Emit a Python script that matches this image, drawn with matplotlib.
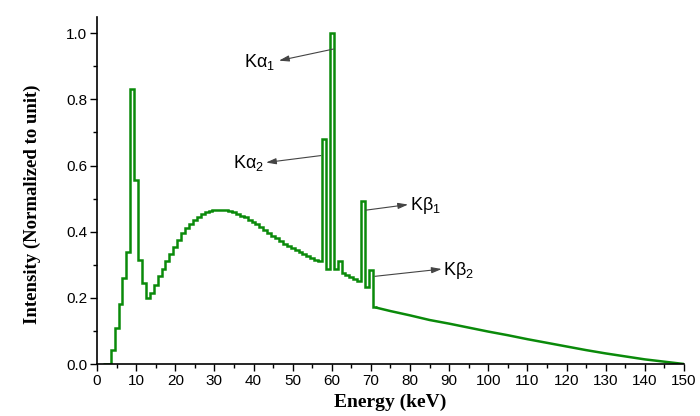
import matplotlib.pyplot as plt
import numpy as np

# binned part of the spectrum (1 keV bins, centre energies in keV)
energy_bins = np.arange(2, 72)
intensity_bins = [
    0.0, 0.0, 0.042, 0.11, 0.18, 0.26, 0.34, 0.83, 0.557, 0.315,
    0.245, 0.200, 0.215, 0.24, 0.265, 0.287, 0.31, 0.333, 0.355, 0.376,
    0.395, 0.41, 0.424, 0.436, 0.445, 0.452, 0.458, 0.462, 0.464, 0.465,
    0.466, 0.467, 0.463, 0.458, 0.453, 0.448, 0.443, 0.436, 0.429, 0.422,
    0.414, 0.405, 0.396, 0.388, 0.38, 0.372, 0.364, 0.357, 0.35, 0.344,
    0.338, 0.332, 0.326, 0.32, 0.315, 0.31, 0.68, 0.287, 1.0, 0.287,
    0.31, 0.275, 0.268, 0.262, 0.256, 0.25, 0.492, 0.232, 0.283, 0.171,
]

# smooth tail of the spectrum
tail_energy = [71.5, 75, 80, 85, 90, 95, 100, 105, 110, 115, 120, 125, 130, 135, 140, 145, 150]
tail_intensity = [0.170, 0.160, 0.147, 0.133, 0.122, 0.110, 0.098, 0.087, 0.075,
                  0.064, 0.053, 0.042, 0.032, 0.023, 0.014, 0.007, 0.0]

# labels: (text, arrow start on peak, arrow tip, text position, alignment)
labels = [r'K$\mathregular{\alpha_1}$', r'K$\mathregular{\alpha_2}$',
          r'K$\mathregular{\beta_1}$', r'K$\mathregular{\beta_2}$']
arrow_from = [(60.4, 0.952), (57.2, 0.630), (68.7, 0.465), (71.0, 0.265)]
arrow_to = [(46.5, 0.917), (43.2, 0.609), (79.5, 0.482), (88.1, 0.287)]
text_pos = [(45.6, 0.912), (42.6, 0.607), (80.0, 0.478), (88.4, 0.283)]
text_ha = ['right', 'right', 'left', 'left']

green = '#0a8a0a'

fig = plt.figure(figsize=(7, 4.16), dpi=100)
ax = fig.add_axes([0.1386, 0.125, 0.8384, 0.835])

edges = np.append(energy_bins - 0.5, energy_bins[-1] + 0.5)
ax.stairs(intensity_bins, edges, baseline=None, color=green, linewidth=1.8)
ax.plot(tail_energy, tail_intensity, color=green, linewidth=1.8)

for lab, a0, a1, tp, ha in zip(labels, arrow_from, arrow_to, text_pos, text_ha):
    ax.annotate('', xy=a1, xytext=a0,
                arrowprops=dict(arrowstyle='-|>,head_length=0.6,head_width=0.18',
                                color='#444444', lw=0.8, shrinkA=0, shrinkB=0))
    ax.text(tp[0], tp[1], lab, ha=ha, va='center', fontsize=13,
            family='Liberation Sans')

ax.set_xlim(0, 150)
ax.set_ylim(0, 1.05)
ax.set_xticks(np.arange(0, 151, 10))
ax.set_xticks(np.arange(5, 150, 10), minor=True)
ax.set_yticks(np.arange(0, 1.01, 0.2))
ax.set_yticks(np.arange(0.1, 1.01, 0.2), minor=True)
ax.set_yticklabels([f'{v:.1f}' for v in np.arange(0, 1.01, 0.2)])

for lab in ax.get_xticklabels() + ax.get_yticklabels():
    lab.set_family('Liberation Sans')
    lab.set_fontsize(11)

ax.tick_params(direction='out', length=5, width=1, pad=2)
ax.tick_params(which='minor', direction='out', length=3, width=1)
ax.spines['top'].set_visible(False)
ax.spines['right'].set_visible(False)
ax.spines['left'].set_linewidth(1.2)
ax.spines['bottom'].set_linewidth(1.2)

ax.set_xlabel('Energy (keV)', family='Liberation Serif', fontweight='bold',
              fontsize=14, labelpad=4)
ax.set_ylabel('Intensity (Normalized to unit)', family='Liberation Serif',
              fontweight='bold', fontsize=13.5)
ax.yaxis.set_label_coords(-0.095, 0.46)

plt.savefig('out.png', dpi=100)
